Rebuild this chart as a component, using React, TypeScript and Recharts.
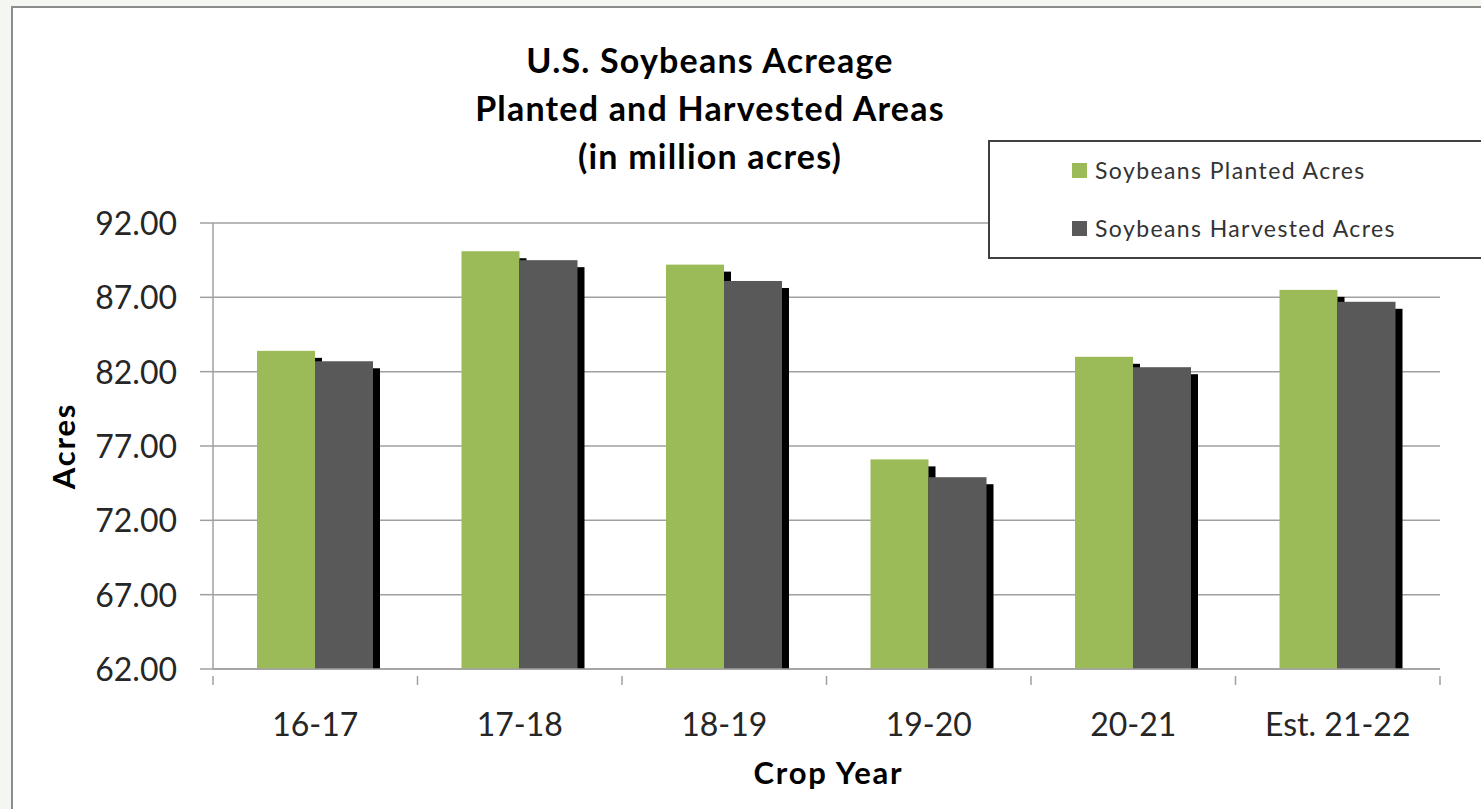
import { Bar, BarChart, CartesianGrid, Label, Legend, XAxis, YAxis } from "recharts";

const cropYears = ["16-17", "17-18", "18-19", "19-20", "20-21", "Est. 21-22"];
const plantedAcres = [83.4, 90.1, 89.2, 76.1, 83.0, 87.5];
const harvestedAcres = [82.7, 89.5, 88.1, 74.9, 82.3, 86.7];
const yTicks = [62, 67, 72, 77, 82, 87, 92];
const seriesNames = ["Soybeans Planted Acres", "Soybeans Harvested Acres"];
const titleLines = ["U.S. Soybeans Acreage", "Planted and Harvested Areas", "(in million acres)"];

const chartData = cropYears.map((year, i) => ({
  year,
  planted: plantedAcres[i],
  harvested: harvestedAcres[i],
}));

const FONT = "Lato, 'Open Sans', sans-serif";
const AXIS_GRAY = "#a0a0a0";
const SHADOW = 7;

// bar with an offset black drop shadow, like the Excel original
function ShadowBar(props: any) {
  const { x, y, width, height, fill } = props;
  if (!height || height <= 0) return null;
  return (
    <g>
      <rect x={x + SHADOW} y={y + SHADOW} width={width} height={Math.max(height - SHADOW, 0)} fill="#000" />
      <rect x={x} y={y} width={width} height={height} fill={fill} />
    </g>
  );
}

function YTick(props: any) {
  const { x, y, payload } = props;
  return (
    <text x={x} y={y + 12} textAnchor="end" fontFamily={FONT} fontSize={32} fill="#262626">
      {Number(payload.value).toFixed(2)}
    </text>
  );
}

function XTick(props: any) {
  const { x, y, payload, index, visibleTicksCount } = props;
  const half = payload.offset ?? 102.25;
  const isLast = index === visibleTicksCount - 1;
  return (
    <g>
      <line x1={x - half} x2={x - half} y1={y - 1} y2={y + 8} stroke={AXIS_GRAY} strokeWidth={1.5} />
      {isLast && <line x1={x + half} x2={x + half} y1={y - 1} y2={y + 8} stroke={AXIS_GRAY} strokeWidth={1.5} />}
      <text x={x} y={y + 59} textAnchor="middle" fontFamily={FONT} fontSize={32} fill="#262626">
        {payload.value}
      </text>
    </g>
  );
}

function LegendBox(props: any) {
  const items = [...(props.payload ?? [])].sort(
    (a: any, b: any) => seriesNames.indexOf(a.value) - seriesNames.indexOf(b.value)
  );
  return (
    <div
      style={{
        width: 500,
        height: 119,
        border: "2px solid #404040",
        background: "#fff",
        boxSizing: "border-box",
        fontFamily: FONT,
        fontSize: 23,
        letterSpacing: 1.4,
        color: "#333",
      }}
    >
      {items.map((item: any, i: number) => (
        <div
          key={item.value}
          style={{ position: "absolute", left: 84, top: 16 + i * 58, display: "flex", alignItems: "center", whiteSpace: "nowrap" }}
        >
          <span style={{ display: "inline-block", width: 15, height: 15, background: item.color, marginRight: 8 }} />
          {item.value}
        </div>
      ))}
    </div>
  );
}

export default function App() {
  return (
    <div style={{ position: "absolute", left: 0, top: 0, width: 1481, height: 809, overflow: "hidden", background: "#f4f7f1" }}>
      <div
        style={{
          position: "absolute",
          left: 11,
          top: 6,
          width: 1600,
          height: 900,
          border: "2px solid #8c8c8c",
          background: "#fff",
        }}
      />
      <div
        style={{
          position: "absolute",
          left: 710,
          top: 36,
          transform: "translateX(-50%)",
          textAlign: "center",
          fontFamily: FONT,
          fontWeight: 700,
          fontSize: 34,
          letterSpacing: 1.2,
          lineHeight: "48px",
          color: "#000",
          whiteSpace: "nowrap",
        }}
      >
        {titleLines.map((line) => (
          <div key={line}>{line}</div>
        ))}
      </div>
      <div style={{ position: "absolute", left: 0, top: 0 }}>
        <BarChart
          width={1481}
          height={809}
          data={chartData}
          margin={{ top: 223, right: 41, left: 0, bottom: 0 }}
          barSize={58}
          barGap={0}
        >
          <CartesianGrid horizontal vertical={false} stroke={AXIS_GRAY} strokeWidth={1.5} />
          <XAxis
            dataKey="year"
            height={140}
            stroke={AXIS_GRAY}
            strokeWidth={1.5}
            tickLine={false}
            tick={<XTick />}
            interval={0}
          >
            <Label
              content={(p: any) => {
                const vb = p.viewBox;
                return (
                  <text x={vb.x + vb.width / 2 + 2} y={vb.y + 115} textAnchor="middle" fontFamily={FONT} fontWeight={700} fontSize={31} letterSpacing={1.8} fill="#000">
                    Crop Year
                  </text>
                );
              }}
            />
          </XAxis>
          <YAxis
            width={213}
            domain={[62, 92]}
            ticks={yTicks}
            stroke={AXIS_GRAY}
            strokeWidth={1.5}
            tickSize={13}
            tickMargin={23}
            tick={<YTick />}
            interval={0}
          >
            <Label
              content={(p: any) => {
                const vb = p.viewBox;
                const cy = vb.y + vb.height / 2;
                return (
                  <text x={63} y={cy} transform={`rotate(-90 63 ${cy})`} textAnchor="middle" dominantBaseline="central" fontFamily={FONT} fontWeight={700} fontSize={31} letterSpacing={1.8} fill="#000">
                    Acres
                  </text>
                );
              }}
            />
          </YAxis>
          <Legend
            layout="vertical"
            align="center"
            verticalAlign="middle"
            content={<LegendBox />}
            wrapperStyle={{ position: "absolute", left: 988, top: 140, width: 500, height: 119 }}
          />
          <Bar dataKey="planted" name={seriesNames[0]} fill="#9bbb59" shape={<ShadowBar />} isAnimationActive={false} />
          <Bar dataKey="harvested" name={seriesNames[1]} fill="#595959" shape={<ShadowBar />} isAnimationActive={false} />
        </BarChart>
      </div>
    </div>
  );
}
